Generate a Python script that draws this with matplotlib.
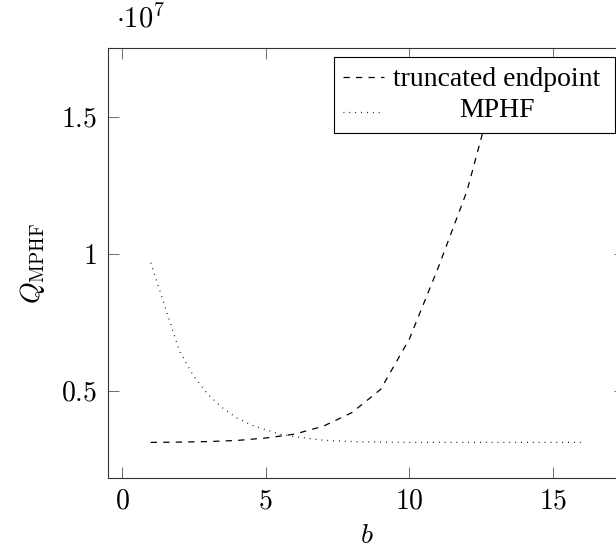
import numpy as np
import matplotlib
matplotlib.use("Agg")
import matplotlib.pyplot as plt
from matplotlib.patches import Rectangle

plt.rcParams['mathtext.fontset'] = 'cm'
plt.rcParams['font.family'] = ['Liberation Serif', 'DejaVu Serif']

# values, in units of 1e7
b_trunc = [1, 2, 3, 4, 5, 6, 7, 8, 9, 10, 11, 12, 13]
q_trunc = [0.311, 0.312, 0.314, 0.318, 0.327, 0.341, 0.370, 0.420,
           0.505, 0.690, 0.950, 1.230, 1.620]

b_mphf = [1, 1.5, 2, 2.5, 3, 3.5, 4, 4.5, 5, 5.5, 6, 7, 8, 9, 10,
          11, 12, 13, 14, 15, 16]
q_mphf = [0.968, 0.806, 0.645, 0.552, 0.485, 0.437, 0.400, 0.375, 0.357,
          0.341, 0.332, 0.319, 0.314, 0.312, 0.311, 0.311, 0.311, 0.311,
          0.311, 0.311, 0.311]

xticks = [0, 5, 10, 15]
yticks = [0.5, 1.0, 1.5]
ytick_labels = ['$0.5$', '$1$', '$1.5$']
labels = ['truncated endpoint', 'MPHF']

fig = plt.figure(figsize=(6.16, 5.5), dpi=100)
ax = fig.add_axes([0.1747, 0.1309, 0.8400, 0.7824])

ax.plot(b_trunc, q_trunc, color='black', lw=0.9, dashes=(5, 5))
ax.plot(b_mphf, q_mphf, color='black', lw=0.9, linestyle=(0, (0.7, 4.0)))

ax.set_xlim(-0.5, 17.5)
ax.set_ylim(0.1807, 1.7546)
ax.set_xticks(xticks)
ax.set_xticklabels([f'${t}$' for t in xticks])
ax.set_yticks(yticks)
ax.set_yticklabels(ytick_labels)
ax.tick_params(direction='in', length=8, width=0.6, color='#555555',
               top=True, right=True, labelsize=20)
ax.tick_params(axis='x', pad=8.5)
ax.tick_params(axis='y', pad=7.5)
for s in ax.spines.values():
    s.set_linewidth(0.8)
    s.set_color('#333333')

ax.set_xlabel('$b$', fontsize=20, va='baseline')
ax.xaxis.set_label_coords(0.5, -0.152)
ax.set_ylabel(r'$Q_{\mathrm{MPHF}}$', fontsize=20)
ax.yaxis.set_label_coords(-0.117, 0.5)

ax.text(0.016, 1.048, r'$\cdot 10^7$', transform=ax.transAxes,
        fontsize=20.5, ha='left', va='baseline')

# legend drawn by hand so the labels are centred like pgfplots
ax.add_patch(Rectangle((0.4376, 0.8018), 0.5431, 0.1766, transform=ax.transAxes,
                       facecolor='white', edgecolor='black', lw=0.8, zorder=5))
ax.plot([0.4547, 0.5340], [0.932, 0.932], transform=ax.transAxes,
        color='black', lw=0.9, dashes=(5, 5), zorder=6)
ax.plot([0.4547, 0.5340], [0.851, 0.851], transform=ax.transAxes,
        color='black', lw=0.9, linestyle=(0, (0.7, 4.0)), zorder=6)
ax.text(0.7526, 0.911, labels[0], transform=ax.transAxes, fontsize=20,
        ha='center', va='baseline', zorder=6)
ax.text(0.7526, 0.838, labels[1], transform=ax.transAxes, fontsize=20,
        ha='center', va='baseline', zorder=6)

fig.savefig('out.png', dpi=100)
